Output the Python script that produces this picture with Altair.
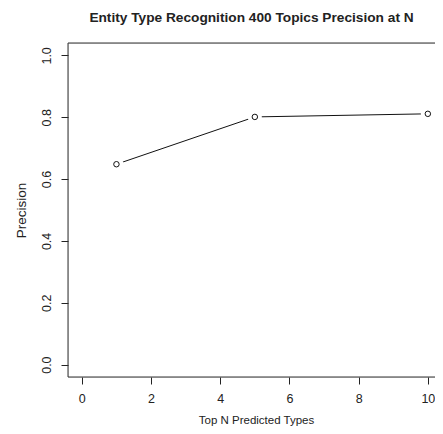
import altair as alt
import pandas as pd

# data
top_n = [1, 5, 10]
precision = [0.648, 0.801, 0.811]

x_ticks = [0, 2, 4, 6, 8, 10]
y_ticks = [0.0, 0.2, 0.4, 0.6, 0.8, 1.0]

df = pd.DataFrame({"N": top_n, "Precision": precision})

W, H = 367, 334
FONT = "Liberation Sans"
INK = "#222222"

xscale = alt.Scale(domain=[-0.4, 10.207], nice=False, zero=False)
yscale = alt.Scale(domain=[-0.04, 1.04], nice=False, zero=False)

x_axis = alt.Axis(
    values=x_ticks, format="d", title="Top N Predicted Types",
    grid=False, domain=False, tickSize=7, tickColor=INK, tickWidth=1,
    labelAngle=0, labelBaseline="alphabetic", labelAlign="center", labelPadding=18,
    labelFont=FONT, labelFontSize=12.5, labelColor=INK,
    titleFont=FONT, titleFontSize=11.5, titleFontWeight="normal", titleColor=INK,
    titleBaseline="alphabetic", titleY=46, titleX=188,
)
y_axis = alt.Axis(
    values=y_ticks, format=".1f", title="Precision",
    grid=False, domain=False, tickSize=7, tickColor=INK, tickWidth=1,
    labelAngle=-90, labelAlign="center", labelBaseline="alphabetic", labelPadding=11,
    labelFont=FONT, labelFontSize=12.5, labelColor=INK,
    titleFont=FONT, titleFontSize=13.5, titleFontWeight="normal", titleColor=INK,
    titleAngle=-90, titleAlign="center", titleBaseline="alphabetic",
    titleX=-43, titleY=H / 2,
)

base = alt.Chart(df)
X = alt.X("N:Q", scale=xscale, axis=x_axis)
Y = alt.Y("Precision:Q", scale=yscale, axis=y_axis)

line = base.mark_line(color="#111111", strokeWidth=1).encode(x=X, y=Y)
halo = base.mark_point(shape="circle", filled=True, color="white", opacity=1, size=200).encode(x=X, y=Y)
pts = base.mark_point(shape="circle", filled=False, color="#111111", opacity=1,
                      size=30, strokeWidth=1).encode(x=X, y=Y)

one = alt.Data(values=[{"a": 1}])
box_col = "#333333"
top_rule = alt.Chart(one).mark_rule(color=box_col, strokeWidth=1).encode(
    x=alt.value(0), x2=alt.value(W + 5), y=alt.value(0))
bot_rule = alt.Chart(one).mark_rule(color=box_col, strokeWidth=1).encode(
    x=alt.value(0), x2=alt.value(W + 5), y=alt.value(H))
left_rule = alt.Chart(one).mark_rule(color=box_col, strokeWidth=1).encode(
    x=alt.value(0), y=alt.value(0), y2=alt.value(H))

chart = alt.layer(line, halo, pts, top_rule, bot_rule, left_rule).properties(
    width=W, height=H,
    title=alt.TitleParams(
        "Entity Type Recognition 400 Topics Precision at N",
        font=FONT, fontSize=13.7, fontWeight="bold", color=INK,
        anchor="middle", baseline="alphabetic", offset=7,
    ),
    autosize=alt.AutoSizeParams(type="none"),
    padding={"left": 60, "top": 35, "right": 0, "bottom": 49},
).configure_view(stroke=None).configure(background="white")

chart.save("out.html", embed_options={"renderer": "svg", "actions": False})
